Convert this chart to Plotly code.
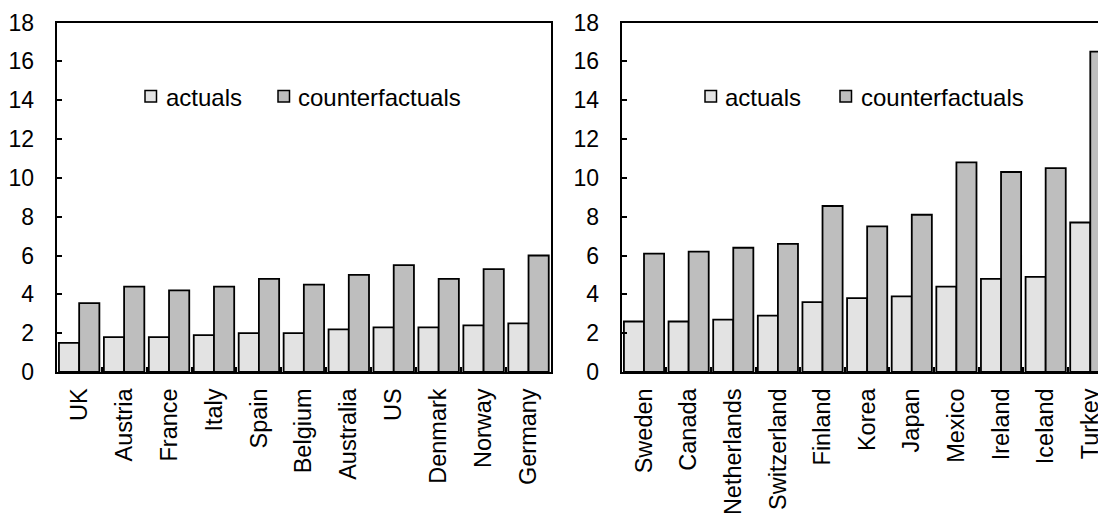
import plotly.graph_objects as go

# ---- data ----
left_countries = ["UK", "Austria", "France", "Italy", "Spain", "Belgium",
                  "Australia", "US", "Denmark", "Norway", "Germany"]
left_actuals = [1.5, 1.8, 1.8, 1.9, 2.0, 2.0, 2.2, 2.3, 2.3, 2.4, 2.5]
left_counterfactuals = [3.55, 4.4, 4.2, 4.4, 4.8, 4.5, 5.0, 5.5, 4.8, 5.3, 6.0]

right_countries = ["Sweden", "Canada", "Netherlands", "Switzerland", "Finland",
                   "Korea", "Japan", "Mexico", "Ireland", "Iceland", "Turkey"]
right_actuals = [2.6, 2.6, 2.7, 2.9, 3.6, 3.8, 3.9, 4.4, 4.8, 4.9, 7.7]
right_counterfactuals = [6.1, 6.2, 6.4, 6.6, 8.55, 7.5, 8.1, 10.8, 10.3, 10.5, 16.5]

series_names = ["actuals", "counterfactuals"]
y_ticks = [0, 2, 4, 6, 8, 10, 12, 14, 16, 18]

# ---- style ----
FONT = "Liberation Sans, Arial, sans-serif"
C_ACT = "#E3E3E3"
C_CF = "#BEBEBE"
# page body has an 8px margin: the figure is drawn 8px right/down of the window corner
OFF = 8
W, H = 1106 - OFF, 519 - OFF


def px_x(x):
    return (x - OFF) / W


def px_y(y):
    return (H - (y - OFF)) / H


fig = go.Figure()
line = dict(color="black", width=1.8)

fig.add_trace(go.Bar(x=left_countries, y=left_actuals, name=series_names[0],
                     marker=dict(color=C_ACT, line=line), xaxis="x", yaxis="y"))
fig.add_trace(go.Bar(x=left_countries, y=left_counterfactuals, name=series_names[1],
                     marker=dict(color=C_CF, line=line), xaxis="x", yaxis="y"))
fig.add_trace(go.Bar(x=right_countries, y=right_actuals, name=series_names[0],
                     marker=dict(color=C_ACT, line=line), xaxis="x2", yaxis="y2"))
fig.add_trace(go.Bar(x=right_countries, y=right_counterfactuals, name=series_names[1],
                     marker=dict(color=C_CF, line=line), xaxis="x2", yaxis="y2"))

y_bottom = px_y(372)
y_top = px_y(22.5)

xcommon = dict(type="category", showline=True, linecolor="black", linewidth=2,
               mirror=True, ticks="inside", tickson="boundaries", ticklen=5,
               tickwidth=2, tickcolor="black", tickangle=-90, showgrid=False,
               tickfont=dict(family=FONT, size=23.5, color="black"),
               automargin=False, ticklabelstandoff=5, fixedrange=True)
ycommon = dict(range=[0, 18], tickvals=y_ticks, showline=True, linecolor="black",
               linewidth=2, ticks="inside", ticklen=5, tickwidth=2,
               tickcolor="black", showgrid=False, zeroline=False,
               tickfont=dict(family=FONT, size=23, color="black"),
               automargin=False, ticklabelstandoff=16, fixedrange=True)

n_r = len(right_countries)

# manual legends (swatch + label) placed as in the reference
shapes = []
annotations = []
legend_pos = [
    [(145, 165), (278, 297)],   # left panel: (swatch x, text x) per series
    [(705, 724), (840, 860)],   # right panel
]
colors = [C_ACT, C_CF]
for panel in legend_pos:
    for (sx, tx), name, col in zip(panel, series_names, colors):
        shapes.append(dict(type="rect", xref="paper", yref="paper",
                           x0=px_x(sx), x1=px_x(sx + 11.5),
                           y0=px_y(90.5), y1=px_y(102),
                           fillcolor=col, line=dict(color="black", width=1.5),
                           layer="above"))
        annotations.append(dict(text=name, xref="paper", yref="paper",
                                x=px_x(tx - 1), y=px_y(97), xanchor="left",
                                yanchor="middle", showarrow=False,
                                font=dict(family=FONT, size=24, color="black")))

fig.update_layout(
    width=W, height=H,
    margin=dict(l=0, r=0, t=0, b=0),
    paper_bgcolor="white", plot_bgcolor="white",
    barmode="group", bargap=0.1, bargroupgap=0,
    font=dict(family=FONT, size=22, color="black"),
    xaxis=dict(xcommon, domain=[px_x(56.7), px_x(551)], anchor="y",
               range=[-0.5, len(left_countries) - 0.5]),
    yaxis=dict(ycommon, domain=[y_bottom, y_top], anchor="x", mirror=True),
    xaxis2=dict(xcommon, domain=[px_x(621.7), 1.0], anchor="y2",
                range=[-0.5, n_r - 0.5 - 0.148]),
    yaxis2=dict(ycommon, domain=[y_bottom, y_top], anchor="x2", mirror=False),
    showlegend=False,
    shapes=shapes,
    annotations=annotations,
)

fig.write_html("out.html", config={"displayModeBar": False})
